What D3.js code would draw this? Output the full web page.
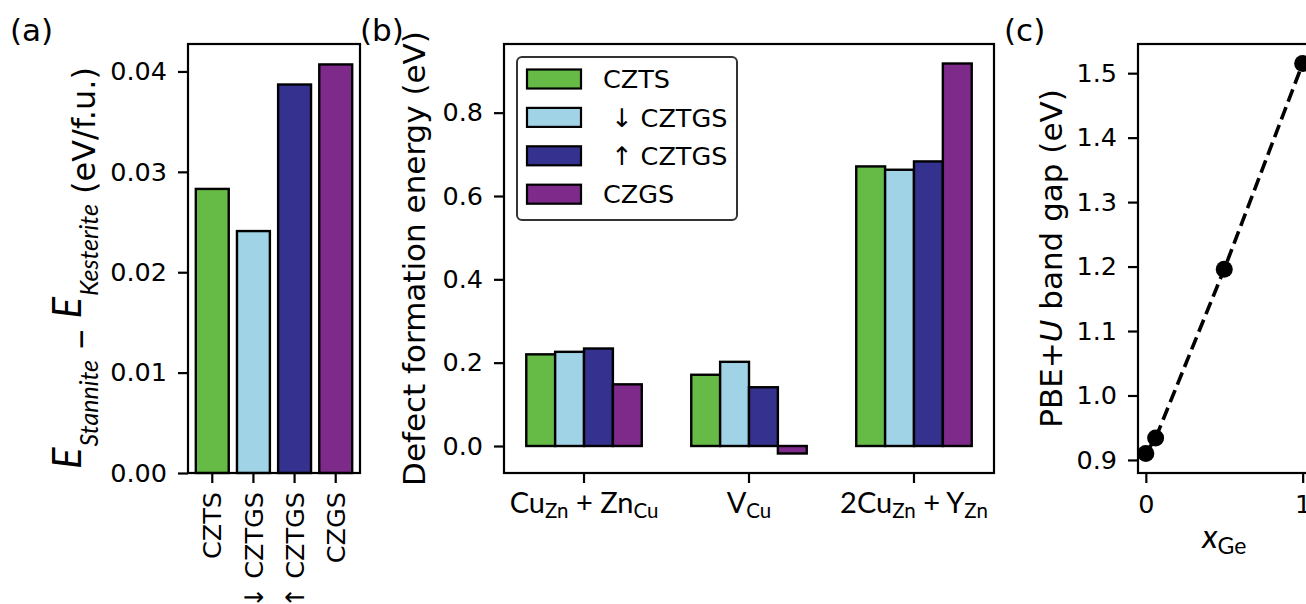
<!DOCTYPE html>
<html>
<head>
<meta charset="utf-8">
<script src="https://cdn.jsdelivr.net/npm/d3@7"></script>
<style>
  body { margin: 0; background: #fff; }
  svg { display: block; background: #fff; }
  .tick text { font-family: "DejaVu Sans"; font-size: 25.5px; fill: #000; }
  .tick line { stroke: #000; stroke-width: 2.2px; }
</style>
</head>
<body>
<svg id="chart"></svg>
<script>
// (a) stannite - kesterite energy per formula unit
const materials = ["CZTS", "↓ CZTGS", "↑ CZTGS", "CZGS"];
const energyDiff = [0.0283, 0.0241, 0.0387, 0.0407];
const diffTicks = [0, 0.01, 0.02, 0.03, 0.04];

// (b) defect formation energies, one array per material
const defects = ["CuZn+ZnCu", "VCu", "2CuZn+YZn"];
const defectLabels = [
  [["Cu", 0], ["Zn", 1], [" + ", 0], ["Zn", 0], ["Cu", 1]],
  [["V", 0], ["Cu", 1]],
  [["2Cu", 0], ["Zn", 1], [" + ", 0], ["Y", 0], ["Zn", 1]]
];
const seriesNames = ["CZTS", " ↓ CZTGS", " ↑ CZTGS", "CZGS"];
const defectCZTS = [0.220, 0.171, 0.671];
const defectDownCZTGS = [0.226, 0.202, 0.663];
const defectUpCZTGS = [0.234, 0.141, 0.683];
const defectCZGS = [0.148, -0.018, 0.918];
const defectTicks = [0, 0.2, 0.4, 0.6, 0.8];

// (c) band gap vs Ge content
const xGe = [0, 0.0625, 0.5, 1];
const bandGap = [0.910, 0.934, 1.196, 1.515];
const gapTicks = [0.9, 1.0, 1.1, 1.2, 1.3, 1.4, 1.5];
const xGeTicks = [0, 1];

const colors = ["#66bb46", "#a0d3e6", "#35318f", "#7d2a8b"];

const width = 1306;
const height = 604;
const plotTop = 44, plotBottom = 473;

const svg = d3.select("#chart").attr("width", width).attr("height", height);

// matplotlib-like 5% margins
function pad(lo, hi) {
  const r = hi - lo;
  return [lo - 0.05 * r, hi + 0.05 * r];
}

function styleAxis(g) {
  g.select(".domain").remove();
}

function frame(x0, x1) {
  svg.append("rect")
    .attr("x", x0).attr("y", plotTop)
    .attr("width", x1 - x0).attr("height", plotBottom - plotTop)
    .attr("fill", "none").attr("stroke", "#000").attr("stroke-width", 2.2);
}

function panelLabel(txt, x) {
  svg.append("text")
    .attr("x", x).attr("y", 41)
    .style("font-family", "DejaVu Sans").style("font-size", "31px")
    .text(txt);
}

// ---------- (a) ----------
const aL = 188, aR = 360;
const xa = d3.scaleBand().domain(materials).range([aL, aR])
  .paddingInner(0.2).paddingOuter(0.19);
const ya = d3.scaleLinear().domain([0, d3.max(energyDiff) * 1.05]).range([plotBottom, plotTop]);

svg.append("g").selectAll("rect")
  .data(energyDiff)
  .join("rect")
  .attr("x", (d, i) => xa(materials[i]))
  .attr("width", xa.bandwidth())
  .attr("y", (d) => ya(d))
  .attr("height", (d) => ya(0) - ya(d))
  .attr("fill", (d, i) => colors[i])
  .attr("stroke", "#000").attr("stroke-width", 2.4);

svg.append("g")
  .attr("transform", `translate(${aL},0)`)
  .call(d3.axisLeft(ya).tickValues(diffTicks).tickFormat(d3.format(".2f"))
    .tickSize(10).tickPadding(11))
  .call(styleAxis);

svg.append("g")
  .attr("transform", `translate(0,${plotBottom})`)
  .call(d3.axisBottom(xa).tickSize(10).tickPadding(9))
  .call(styleAxis)
  .selectAll("text")
  .style("white-space", "pre")
  .attr("transform", "rotate(-90)")
  .attr("text-anchor", "end")
  .attr("x", -19).attr("y", 0).attr("dy", "0.36em");

frame(aL, aR);
panelLabel("(a)", 10);

// y label with math parts: E raised, subscripts dropped below it
const yla = svg.append("text")
  .attr("transform", "translate(95,268) rotate(-90)")
  .attr("text-anchor", "middle")
  .style("font-size", "32px").style("white-space", "pre");
yla.append("tspan").style("font-family", "Lato").style("font-style", "italic")
  .style("font-size", "40px").attr("dy", -14).text("E");
yla.append("tspan").style("font-family", "Lato").style("font-style", "italic")
  .style("font-size", "25px").attr("dx", 1).attr("dy", 17).text("Stannite");
yla.append("tspan").style("font-family", "Lato").style("font-size", "38px")
  .attr("dy", -3).text(" \u2212 ");
yla.append("tspan").style("font-family", "Lato").style("font-style", "italic")
  .style("font-size", "40px").attr("dy", -14).text("E");
yla.append("tspan").style("font-family", "Lato").style("font-style", "italic")
  .style("font-size", "25px").attr("dx", 1).attr("dy", 17).text("Kesterite");
yla.append("tspan").style("font-family", "DejaVu Sans").attr("dy", -3).text(" (eV/f.u.)");

// ---------- (b) ----------
const bL = 504, bR = 994;
const series = [defectCZTS, defectDownCZTGS, defectUpCZTGS, defectCZGS];
const xb = d3.scaleBand().domain(defects).range([bL, bR])
  .paddingInner(0.3).paddingOuter(0.135);
const xbInner = d3.scaleBand().domain(d3.range(series.length)).range([0, xb.bandwidth()]);
const allDefect = series.flat();
const yb = d3.scaleLinear()
  .domain(pad(Math.min(0, d3.min(allDefect)), d3.max(allDefect)))
  .range([plotBottom, plotTop]);

series.forEach((vals, j) => {
  svg.append("g").selectAll("rect")
    .data(vals)
    .join("rect")
    .attr("x", (d, i) => xb(defects[i]) + xbInner(j))
    .attr("width", xbInner.bandwidth())
    .attr("y", (d) => yb(Math.max(0, d)))
    .attr("height", (d) => Math.abs(yb(d) - yb(0)))
    .attr("fill", colors[j])
    .attr("stroke", "#000").attr("stroke-width", 2.4);
});

svg.append("g")
  .attr("transform", `translate(${bL},0)`)
  .call(d3.axisLeft(yb).tickValues(defectTicks).tickFormat(d3.format(".1f"))
    .tickSize(10).tickPadding(11))
  .call(styleAxis);

const xbAxis = svg.append("g")
  .attr("transform", `translate(0,${plotBottom})`)
  .call(d3.axisBottom(xb).tickSize(10).tickFormat(""))
  .call(styleAxis);
xbAxis.selectAll(".tick text").remove();
xbAxis.selectAll(".tick").each(function (d, i) {
  const t = d3.select(this).append("text")
    .attr("y", 40).attr("text-anchor", "middle")
    .style("font-family", "Lato").style("font-size", "29px")
    .style("white-space", "pre").attr("fill", "#000");
  let sub = false;
  defectLabels[i].forEach(([s, isSub]) => {
    const sp = t.append("tspan").text(s);
    if (isSub && !sub) sp.attr("dy", 5);
    if (!isSub && sub) sp.attr("dy", -5);
    if (isSub) sp.style("font-size", "20.5px");
    sub = !!isSub;
  });
});

frame(bL, bR);
panelLabel("(b)", 360);

svg.append("text")
  .attr("transform", `translate(425,${(plotTop + plotBottom) / 2}) rotate(-90)`)
  .attr("text-anchor", "middle")
  .style("font-family", "DejaVu Sans").style("font-size", "31px")
  .text("Defect formation energy (eV)");

// legend
const leg = svg.append("g").attr("transform", "translate(517,57)");
leg.append("rect")
  .attr("width", 220).attr("height", 163).attr("rx", 5)
  .attr("fill", "#fff").attr("fill-opacity", 0.8)
  .attr("stroke", "#333").attr("stroke-width", 2);
const rows = leg.selectAll("g.row").data(seriesNames).join("g")
  .attr("transform", (d, i) => `translate(0,${22 + i * 38.4})`);
rows.append("rect")
  .attr("x", 10).attr("y", -9.5).attr("width", 54).attr("height", 19)
  .attr("fill", (d, i) => colors[i]).attr("stroke", "#000").attr("stroke-width", 2.2);
rows.append("text")
  .attr("x", 86).attr("dy", "0.36em")
  .style("font-family", "DejaVu Sans").style("font-size", "25.5px")
  .style("white-space", "pre")
  .text((d) => d);

// ---------- (c) ----------
const cL = 1138, cR = 1310.5;
const xc = d3.scaleLinear().domain([-0.05, 1.05]).range([cL, cR]);
const yc = d3.scaleLinear().domain(pad(d3.min(bandGap), d3.max(bandGap))).range([plotBottom, plotTop]);
const pts = xGe.map((x, i) => [x, bandGap[i]]);

svg.append("path")
  .datum(pts)
  .attr("d", d3.line().x((d) => xc(d[0])).y((d) => yc(d[1])))
  .attr("fill", "none").attr("stroke", "#000")
  .attr("stroke-width", 3.6).attr("stroke-dasharray", "13,6");

svg.append("g").selectAll("circle")
  .data(pts)
  .join("circle")
  .attr("cx", (d) => xc(d[0])).attr("cy", (d) => yc(d[1]))
  .attr("r", 8.5).attr("fill", "#000");

svg.append("g")
  .attr("transform", `translate(${cL},0)`)
  .call(d3.axisLeft(yc).tickValues(gapTicks).tickFormat(d3.format(".1f"))
    .tickSize(10).tickPadding(11))
  .call(styleAxis);

svg.append("g")
  .attr("transform", `translate(0,${plotBottom})`)
  .call(d3.axisBottom(xc).tickValues(xGeTicks).tickFormat(d3.format("d"))
    .tickSize(10).tickPadding(12))
  .call(styleAxis);

frame(cL, cR);
panelLabel("(c)", 1004);

const ylc = svg.append("text")
  .attr("transform", `translate(1062,${(plotTop + plotBottom) / 2}) rotate(-90)`)
  .attr("text-anchor", "middle")
  .style("font-family", "DejaVu Sans").style("font-size", "31px");
ylc.append("tspan").text("PBE+");
ylc.append("tspan").style("font-style", "italic").text("U");
ylc.append("tspan").text(" band gap (eV)");

const xlc = svg.append("text")
  .attr("x", (cL + cR) / 2).attr("y", 548).attr("text-anchor", "middle")
  .style("font-family", "Lato").style("font-size", "33px");
xlc.append("tspan").style("font-style", "italic").text("x");
xlc.append("tspan").style("font-size", "23px").attr("dy", 6).text("Ge");
</script>
</body>
</html>
